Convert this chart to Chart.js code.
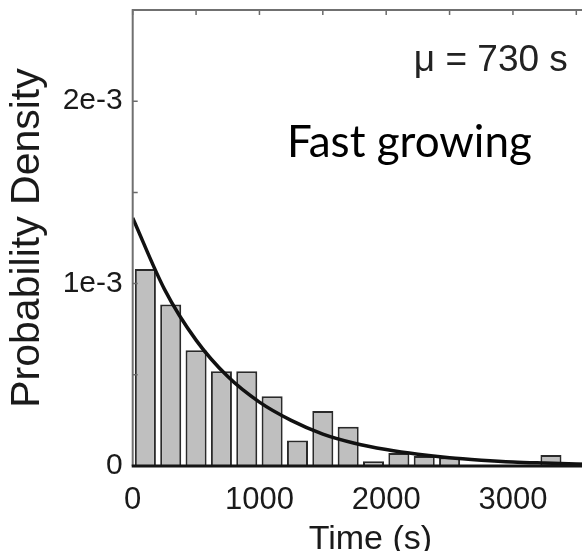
<!DOCTYPE html>
<html>
<head>
<meta charset="utf-8">
<script src="https://cdn.jsdelivr.net/npm/chart.js@4/dist/chart.umd.min.js"></script>
<style>
html, body { margin: 0; padding: 0; background: #fff; width: 582px; height: 551px; overflow: hidden; }
#wrap { width: 620px; height: 580px; }
</style>
</head>
<body>
<div id="wrap"><canvas id="chart" width="620" height="580"></canvas></div>
<script>
// histogram bins (200 s wide), centres in seconds
var binCenters = [100, 300, 500, 700, 900, 1100, 1300, 1500, 1700, 1900, 2100, 2300, 2500, 2700, 2900, 3100, 3300, 3500];
var binDensity = [1.08e-3, 0.885e-3, 0.635e-3, 0.52e-3, 0.52e-3, 0.383e-3, 0.14e-3, 0.302e-3, 0.215e-3, 0.026e-3, 0.071e-3, 0.055e-3, 0.047e-3, 0, 0, 0, 0.06e-3, 0];

// fitted curve
var fitTimes = [0, 250, 500, 750, 1000, 1250, 1500, 1750, 2000, 2250, 2500, 2750, 3000, 3250, 3500, 3750];
var fitDensity = [1.36e-3, 0.97e-3, 0.69e-3, 0.49e-3, 0.35e-3, 0.25e-3, 0.175e-3, 0.125e-3, 0.09e-3, 0.064e-3, 0.045e-3, 0.032e-3, 0.022e-3, 0.016e-3, 0.011e-3, 0.008e-3];

var xTickValues = [0, 500, 1000, 1500, 2000, 2500, 3000, 3500];
var xTickLabels = { 0: '0', 1000: '1000', 2000: '2000', 3000: '3000' };
var yTickValues = [0, 0.5e-3, 1e-3, 1.5e-3, 2e-3];
var yTickLabels = ['0', '', '1e-3', '', '2e-3'];

var meanLabel = '\u03bc = 730 s';
var panelLabel = 'Fast growing';

function pairs(xs, ys) {
    var out = [];
    for (var i = 0; i < xs.length; i++) {
        out.push({x: xs[i], y: ys[i]});
    }
    return out;
}

// inward ticks, frame and the two text labels
var frameTicks = {
    id: 'frameTicks',
    afterDraw: function (chart) {
        "use strict";
        var ctx = chart.ctx;
        var area = chart.chartArea;
        var xs = chart.scales.x;
        var ys = chart.scales.y;
        ctx.save();

        ctx.strokeStyle = '#6a6a6a';
        ctx.lineWidth = 1.5;
        ctx.beginPath();
        xTickValues.forEach(function (v) {
            var px = xs.getPixelForValue(v);
            ctx.moveTo(px, area.top);
            ctx.lineTo(px, area.top + 5);
        });
        yTickValues.forEach(function (v) {
            var py = ys.getPixelForValue(v);
            ctx.moveTo(area.left, py);
            ctx.lineTo(area.left + 5, py);
            ctx.moveTo(area.right, py);
            ctx.lineTo(area.right - 5, py);
        });
        ctx.stroke();

        ctx.strokeStyle = '#707070';
        ctx.lineWidth = 2;
        ctx.beginPath();
        ctx.moveTo(area.left, area.bottom);
        ctx.lineTo(area.left, area.top);
        ctx.lineTo(area.right, area.top);
        ctx.lineTo(area.right, area.bottom);
        ctx.stroke();

        ctx.strokeStyle = '#151515';
        ctx.lineWidth = 3;
        ctx.beginPath();
        ctx.moveTo(area.left - 1, area.bottom);
        ctx.lineTo(area.right, area.bottom);
        ctx.stroke();

        ctx.fillStyle = '#222';
        ctx.font = '37px "Liberation Sans", Arial, sans-serif';
        ctx.textAlign = 'right';
        ctx.textBaseline = 'alphabetic';
        ctx.fillText(meanLabel, xs.getPixelForValue(3433), ys.getPixelForValue(2.164e-3));

        ctx.fillStyle = '#000';
        ctx.font = '44px Lato, "Noto Sans", sans-serif';
        ctx.textAlign = 'left';
        ctx.fillText(panelLabel, xs.getPixelForValue(1217), ys.getPixelForValue(1.694e-3));

        ctx.restore();
    }
};

var ctx = document.getElementById('chart').getContext('2d');
var chart = new Chart(ctx, {
    type: 'bar',
    data: {
        datasets: [
            {
                type: 'line',
                data: pairs(fitTimes, fitDensity),
                borderColor: '#111',
                borderWidth: 3.5,
                pointRadius: 0,
                cubicInterpolationMode: 'monotone',
                fill: false,
                order: 0
            },
            {
                type: 'bar',
                data: pairs(binCenters, binDensity),
                backgroundColor: '#bfbfbf',
                borderColor: '#2a2a2a',
                borderWidth: 2,
                borderSkipped: 'bottom',
                barPercentage: 0.83,
                categoryPercentage: 1,
                order: 1
            }
        ]
    },
    options: {
        responsive: false,
        devicePixelRatio: 1,
        animation: false,
        layout: { padding: { top: 10, right: 12, left: 0, bottom: 0 } },
        plugins: { legend: { display: false }, tooltip: { enabled: false } },
        scales: {
            x: {
                type: 'linear',
                min: 0,
                max: 3750,
                offset: false,
                grid: { display: false, offset: false, drawTicks: false },
                border: { display: false },
                afterBuildTicks: function (scale) {
                    scale.ticks = xTickValues.map(function (v) { return {value: v}; });
                },
                afterFit: function (scale) {
                    scale.height = 114;
                    scale.paddingLeft = 0;
                    scale.paddingRight = 0;
                },
                ticks: {
                    padding: 16,
                    maxRotation: 0,
                    autoSkip: false,
                    color: '#1a1a1a',
                    font: { family: '"Liberation Sans", Arial, sans-serif', size: 31 },
                    callback: function (v) { return xTickLabels[v] !== undefined ? xTickLabels[v] : ''; }
                },
                title: {
                    display: true,
                    text: 'Time (s)',
                    color: '#1a1a1a',
                    font: { family: '"Liberation Sans", Arial, sans-serif', size: 34, lineHeight: 1.0 },
                    padding: { top: 0, bottom: 23 }
                }
            },
            y: {
                min: 0,
                max: 2.5e-3,
                grid: { display: false, drawTicks: false },
                border: { display: false },
                afterBuildTicks: function (scale) {
                    scale.ticks = yTickValues.map(function (v) { return {value: v}; });
                },
                afterFit: function (scale) {
                    scale.width = 132.7;
                    scale.paddingTop = 0;
                    scale.paddingBottom = 0;
                },
                ticks: {
                    padding: 10,
                    autoSkip: false,
                    color: '#1a1a1a',
                    font: { family: '"Liberation Sans", Arial, sans-serif', size: 30 },
                    callback: function (v, i) { return yTickLabels[i]; }
                },
                title: {
                    display: true,
                    text: 'Probability Density',
                    color: '#1a1a1a',
                    font: { family: '"Liberation Sans", Arial, sans-serif', size: 41, lineHeight: 1.2 },
                    padding: { top: 3, bottom: 0 }
                }
            }
        }
    },
    plugins: [frameTicks]
});
</script>
</body>
</html>
